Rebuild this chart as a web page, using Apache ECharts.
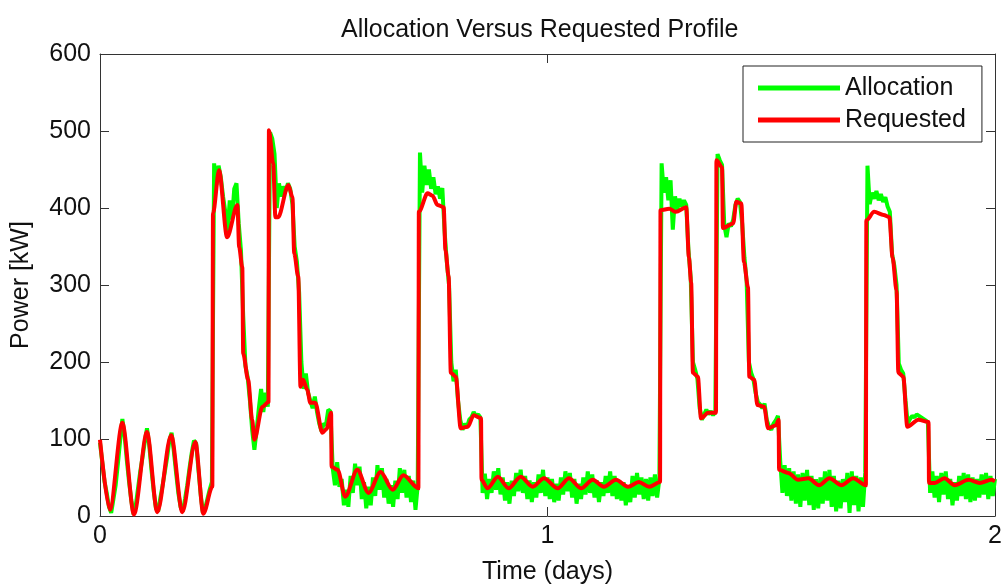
<!DOCTYPE html>
<html>
<head>
<meta charset="utf-8">
<script src="https://cdn.jsdelivr.net/npm/echarts@6/dist/echarts.min.js"></script>
<style>
  html, body { margin: 0; padding: 0; background: #fff; }
  #chart { width: 1004px; height: 586px; }
</style>
</head>
<body>
<div id="chart"></div>
<script>
// requested profile (time in days, power in kW)
var reqTime = [0, 0.022, 0.050, 0.076, 0.105, 0.128, 0.159, 0.184, 0.213, 0.231, 0.251,
  0.2525, 0.266, 0.284, 0.307, 0.311, 0.318, 0.320, 0.331, 0.340, 0.345, 0.363, 0.3765,
  0.3775, 0.387, 0.392, 0.398, 0.421, 0.430, 0.434, 0.443, 0.448, 0.454, 0.463, 0.470, 0.481, 0.497, 0.506, 0.5165,
  0.5175, 0.531, 0.548, 0.575, 0.600, 0.627, 0.654, 0.678, 0.7115,
  0.7125, 0.732, 0.743, 0.754, 0.768, 0.772, 0.779, 0.784, 0.795, 0.806, 0.822, 0.835, 0.8515,
  0.8525, 0.866, 0.889, 0.913, 0.940, 0.967, 0.992, 1.023, 1.048, 1.075, 1.101, 1.126, 1.153, 1.180, 1.204, 1.227, 1.2515,
  1.2525, 1.272, 1.287, 1.310, 1.316, 1.321, 1.325, 1.336, 1.343, 1.359, 1.3765,
  1.3775, 1.390, 1.392, 1.415, 1.422, 1.433, 1.439, 1.448, 1.451, 1.462, 1.469, 1.484, 1.493, 1.511, 1.5165,
  1.5175, 1.538, 1.560, 1.583, 1.607, 1.630, 1.657, 1.683, 1.7115,
  1.7125, 1.730, 1.751, 1.764, 1.771, 1.780, 1.784, 1.795, 1.804, 1.829, 1.8515,
  1.8525, 1.865, 1.887, 1.910, 1.941, 1.966, 1.992, 2.000];
var reqPower = [99, 8, 121, 2, 109, 5, 105, 5, 96, 3, 38,
  393, 449, 362, 404, 349, 323, 211, 177, 125, 99, 142, 148,
  501, 458, 388, 388, 430, 414, 341, 311, 168, 177, 164, 147, 147, 108, 113, 134,
  64, 60, 25, 60, 30, 57, 34, 53, 36,
  395, 419, 416, 404, 401, 345, 311, 186, 181, 114, 116, 131, 127,
  47, 36, 51, 36, 51, 38, 49, 36, 49, 36, 47, 38, 47, 38, 44, 38, 44,
  397, 399, 395, 401, 336, 303, 186, 181, 127, 134, 134,
  462, 453, 374, 380, 408, 406, 330, 297, 181, 177, 144, 142, 114, 118, 125,
  60, 56, 47, 49, 40, 49, 40, 49, 40,
  384, 395, 391, 388, 336, 293, 186, 181, 116, 125, 122,
  43, 43, 49, 40, 47, 43, 47, 45];

// allocation (green), sampled every allocStep days from 0 to 2
var allocStep = 0.005;
var allocPower = [
  95, 70, 45, 30, 12, 4, 22, 40, 68, 98,
  126, 104, 72, 44, 20, 2, 14, 36, 58, 76,
  96, 114, 92, 60, 32, 10, 6, 24, 40, 58,
  76, 98, 108, 84, 56, 30, 12, 6, 22, 40,
  62, 82, 98, 94, 60, 28, 4, 10, 22, 34,
  44, 458, 430, 455, 440, 415, 395, 370, 410, 385,
  425, 432, 380, 345, 260, 195, 180, 150, 112, 86,
  112, 140, 165, 135, 160, 142, 498, 490, 470, 400,
  432, 415, 428, 422, 432, 425, 405, 350, 330, 290,
  200, 165, 185, 160, 150, 140, 155, 135, 120, 110,
  120, 118, 138, 136, 62, 40, 70, 38, 48, 14,
  34, 12, 52, 30, 68, 40, 64, 22, 44, 10,
  38, 14, 50, 26, 66, 34, 62, 24, 48, 16,
  40, 12, 46, 22, 62, 30, 60, 24, 52, 18,
  46, 8, 40, 472, 420, 455, 430, 450, 425, 440,
  418, 428, 412, 426, 370, 330, 300, 200, 175, 190,
  150, 125, 112, 120, 115, 125, 128, 135, 130, 132,
  128, 30, 55, 22, 48, 30, 58, 34, 62, 28,
  50, 20, 44, 16, 46, 26, 56, 32, 60, 30,
  52, 22, 46, 18, 44, 24, 54, 30, 60, 26,
  50, 22, 48, 18, 42, 20, 50, 28, 58, 32,
  56, 24, 48, 16, 42, 22, 50, 28, 58, 30,
  54, 24, 46, 18, 44, 26, 52, 30, 58, 26,
  52, 22, 46, 20, 44, 14, 40, 18, 52, 24,
  56, 28, 50, 22, 48, 20, 50, 26, 54, 24,
  48, 458, 420, 440, 410, 436, 372, 415, 398, 412,
  402, 410, 404, 345, 310, 200, 190, 178, 140, 125,
  132, 138, 132, 136, 131, 135, 470, 462, 456, 378,
  362, 380, 376, 385, 404, 412, 408, 380, 336, 305,
  200, 186, 178, 160, 148, 145, 140, 146, 125, 116,
  112, 120, 124, 130, 72, 30, 66, 26, 62, 20,
  58, 16, 54, 12, 56, 20, 60, 14, 52, 8,
  48, 10, 50, 16, 58, 20, 60, 12, 52, 6,
  46, 10, 48, 18, 56, 4, 58, 14, 52, 6,
  50, 12, 56, 455, 405, 420, 412, 422, 410, 418,
  408, 414, 402, 395, 340, 325, 300, 198, 190, 185,
  150, 120, 126, 130, 128, 132, 130, 128, 126, 124,
  122, 30, 58, 24, 52, 18, 56, 28, 58, 22,
  48, 14, 44, 20, 52, 26, 56, 22, 54, 18,
  50, 20, 48, 24, 54, 28, 56, 22, 52, 26,
  48];

var xTicks = [0, 1, 2];
var yTicks = [0, 100, 200, 300, 400, 500, 600];

var reqData = reqTime.map(function (t, i) { return [t, reqPower[i]]; });
var allocData = allocPower.map(function (v, i) { return [+(i * allocStep).toFixed(3), v]; });

var FONT = 'Liberation Sans, Arial, Helvetica, sans-serif';
var AXIS_COLOR = '#333';

var myChart = echarts.init(document.getElementById('chart'));

// box-style axis pieces (MATLAB look: ticks inside on all four sides)
var axisLineBox = { show: true, onZero: false, lineStyle: { color: AXIS_COLOR, width: 1 } };
var axisTickBox = { show: true, inside: true, length: 9, lineStyle: { color: AXIS_COLOR } };

myChart.setOption({
  animation: false,
  backgroundColor: '#fff',
  textStyle: { fontFamily: FONT, color: '#000' },
  title: {
    text: 'Allocation Versus Requested Profile',
    left: 336,
    top: 13,
    textStyle: { fontFamily: FONT, fontSize: 25, fontWeight: 'normal', color: '#111' }
  },
  legend: {
    orient: 'vertical',
    left: 743,
    top: 66,
    padding: [8, 16, 8, 15],
    itemGap: 4,
    itemWidth: 82,
    itemHeight: 5,
    icon: 'rect',
    backgroundColor: '#fff',
    borderColor: '#222',
    borderWidth: 1,
    borderRadius: 0,
    textStyle: { fontFamily: FONT, fontSize: 25, color: '#111', lineHeight: 28 },
    data: ['Allocation', 'Requested']
  },
  grid: { left: 100, right: 9, top: 54, bottom: 70, outerBoundsMode: 'none', containLabel: false },
  xAxis: [
    {
      type: 'value', min: 0, max: 2, interval: 1, position: 'bottom',
      name: 'Time (days)', nameLocation: 'middle', nameGap: 44,
      nameTextStyle: { fontFamily: FONT, fontSize: 25, color: '#111' },
      axisLine: axisLineBox,
      axisTick: axisTickBox,
      axisLabel: { fontFamily: FONT, fontSize: 25, color: '#111', margin: 8 },
      splitLine: { show: false }
    },
    {
      type: 'value', min: 0, max: 2, interval: 1, position: 'top',
      axisLine: axisLineBox,
      axisTick: axisTickBox,
      axisLabel: { show: false },
      splitLine: { show: false }
    }
  ],
  yAxis: [
    {
      type: 'value', min: 0, max: 600, interval: 100, position: 'left',
      name: 'Power [kW]', nameLocation: 'middle', nameGap: 66,
      nameTextStyle: { fontFamily: FONT, fontSize: 25, color: '#111' },
      axisLine: axisLineBox,
      axisTick: axisTickBox,
      axisLabel: { fontFamily: FONT, fontSize: 25, color: '#111', margin: 9 },
      splitLine: { show: false }
    },
    {
      type: 'value', min: 0, max: 600, interval: 100, position: 'right',
      axisLine: axisLineBox,
      axisTick: axisTickBox,
      axisLabel: { show: false },
      splitLine: { show: false }
    }
  ],
  series: [
    {
      name: 'Allocation',
      type: 'line',
      xAxisIndex: 0, yAxisIndex: 0,
      data: allocData,
      showSymbol: false,
      color: '#00ff00',
      lineStyle: { color: '#00ff00', width: 4 },
      z: 2
    },
    {
      name: 'Requested',
      type: 'line',
      xAxisIndex: 0, yAxisIndex: 0,
      data: reqData,
      showSymbol: false,
      smooth: 0.3,
      smoothMonotone: 'x',
      color: '#ff0000',
      lineStyle: { color: '#ff0000', width: 4 },
      z: 3
    }
  ]
});
</script>
</body>
</html>
